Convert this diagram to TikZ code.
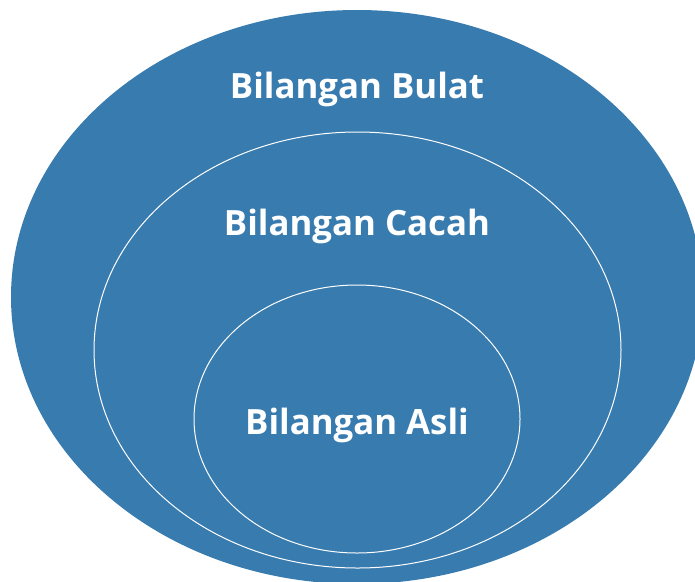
\documentclass[tikz,border=0pt]{standalone}
\usepackage{fontspec}
\setmainfont{Open Sans}
\usepackage{tikz}
\usetikzlibrary{positioning}
\definecolor{setblue}{RGB}{55,123,175}

\tikzset{
  setlabel/.style={text=white, font=\fontsize{34.8}{40}\selectfont\bfseries, anchor=base},
  setring/.style={draw=white, line width=1pt}
}

\begin{document}
\begin{tikzpicture}[x=1pt, y=-1pt]
      \useasboundingbox (0,0) rectangle (695,581);
      \clip (0,0) rectangle (695,581);
      % Outer set
      \fill[setblue] (357,297) ellipse [x radius=346, y radius=287];
      % Middle set
      \draw[setring] (357.5,350) ellipse [x radius=263.5, y radius=218];
      % Inner set
      \draw[setring] (357,419) ellipse [x radius=163, y radius=134];

      % Labels
      \node[setlabel] (bulat) at (357,98) {Bilangan Bulat};
      \node[setlabel] (cacah) at (357,235) {Bilangan Cacah};
      \node[setlabel] (asli) at (357,434) {Bilangan Asli};
\end{tikzpicture}
\end{document}
